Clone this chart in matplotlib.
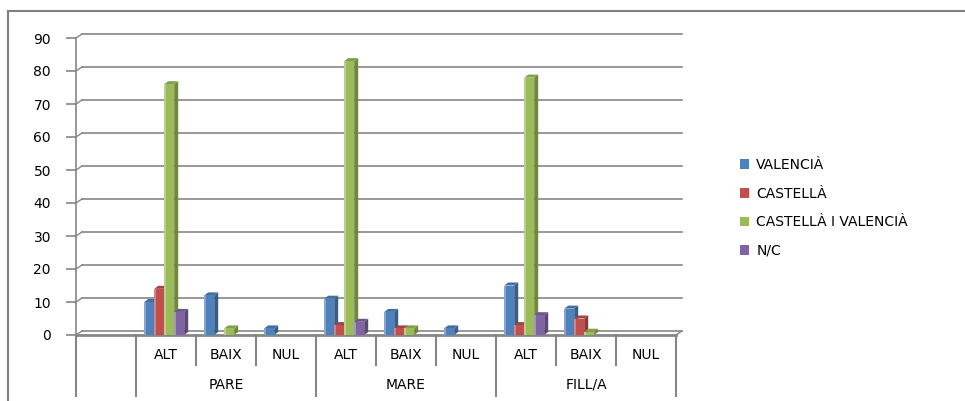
import matplotlib
matplotlib.use("Agg")
import matplotlib.pyplot as plt
import matplotlib.transforms as mtransforms
from matplotlib.patches import Polygon, Rectangle
from matplotlib.lines import Line2D
import numpy as np
import colorsys

# ---------------- data ----------------
groups = ["PARE", "MARE", "FILL/A"]
subcats = ["ALT", "BAIX", "NUL"]
series_names = ["VALENCIÀ", "CASTELLÀ", "CASTELLÀ I VALENCIÀ", "N/C"]
valencia = [10, 12, 2, 11, 7, 2, 15, 8, 0]
castella = [14, 0, 0, 3, 2, 0, 3, 5, 0]
cast_val = [76, 2, 0, 83, 2, 0, 78, 1, 0]
nc = [7, 0, 0, 4, 0, 0, 6, 0, 0]
colors = ["#4F81BD", "#C0504D", "#9BBB59", "#8064A2"]
yticks = [0, 10, 20, 30, 40, 50, 60, 70, 80, 90]

series = [valencia, castella, cast_val, nc]

W, H = 965, 401
fig = plt.figure(figsize=(W / 100, H / 100), dpi=100)
plt.rcParams['font.family'] = ['DejaVu Sans']

ax_l, ax_r, ax_t, ax_b = 76, 676, 38, 335
ax = fig.add_axes([ax_l / W, 1 - ax_b / H, (ax_r - ax_l) / W, (ax_b - ax_t) / H])
ncat = 1 + len(groups) * len(subcats)
ax.set_xlim(-0.5, ncat - 0.5)
ax.set_ylim(0, 90)
ax.patch.set_alpha(0)

grid_c = "#868686"
# back-wall gridlines (offset for pseudo 3D)
off_grid = mtransforms.ScaledTranslation(6 / 100, 4 / 100, fig.dpi_scale_trans)
for v in yticks:
    ax.plot([-0.5, ncat - 0.5], [v, v], color=grid_c, lw=1.2,
            transform=ax.transData + off_grid, clip_on=False, zorder=1)
    # slanted connector from tick to wall
    ax.plot([-0.5, -0.5], [v, v], color=grid_c, lw=1.0, clip_on=False)
# connectors
for v in yticks:
    p0 = ax.transData.transform((-0.5, v))
    p1 = p0 + np.array([6, 4])
    fig.add_artist(Line2D([p0[0] / W, p1[0] / W], [p0[1] / H, p1[1] / H],
                          color=grid_c, lw=1.0))
# right-bottom connector
p0 = ax.transData.transform((ncat - 0.5, 0))
p1 = p0 + np.array([6, 4])
fig.add_artist(Line2D([p0[0] / W, p1[0] / W], [p0[1] / H, p1[1] / H], color=grid_c, lw=1.0))

# bars with pseudo 3D
bw = 1 / 6
dxp, dyp = 4, 3  # pixel depth
inv = ax.transData.inverted()
o = inv.transform((0, 0))
d = inv.transform((dxp, dyp)) - o
ddx, ddy = d


def darker(c, f=0.72):
    r, g, b = matplotlib.colors.to_rgb(c)
    return (r * f, g * f, b * f)


def lighter(c, f=0.25):
    r, g, b = matplotlib.colors.to_rgb(c)
    return (r + (1 - r) * f, g + (1 - g) * f, b + (1 - b) * f)


xs = np.arange(1, ncat)
for si, vals in enumerate(series):
    xpos = xs + (si - 1.5) * bw - 0.03
    for x, v in zip(xpos, vals):
        if v <= 0:
            continue
        x0, x1 = x - bw / 2, x + bw / 2
        c = colors[si]
        # side face
        ax.add_patch(Polygon([(x1, 0), (x1, v), (x1 + ddx, v + ddy), (x1 + ddx, ddy)],
                             closed=True, facecolor=darker(c), edgecolor="none", zorder=3 + si * 0.01))
        # top face
        ax.add_patch(Polygon([(x0, v), (x1, v), (x1 + ddx, v + ddy), (x0 + ddx, v + ddy)],
                             closed=True, facecolor=darker(c, 0.85), edgecolor="none", zorder=3 + si * 0.01))
    ax.bar(xpos, vals, width=bw, color=colors[si], zorder=4, linewidth=0)
    # highlight stripe on the left
    for x, v in zip(xpos, vals):
        if v > 0:
            ax.add_patch(Rectangle((x - bw / 2, 0), bw * 0.18, v, facecolor=lighter(colors[si], 0.3),
                                   edgecolor="none", zorder=4.5))

# spines and ticks
for s in ["top", "right"]:
    ax.spines[s].set_visible(False)
ax.spines["left"].set_color(grid_c)
ax.spines["left"].set_linewidth(1.2)
ax.spines["bottom"].set_color(grid_c)
ax.spines["bottom"].set_linewidth(2.0)
ax.set_yticks(yticks)
ax.set_yticklabels([str(v) for v in yticks], fontsize=10)
ax.tick_params(axis="y", length=7, width=1.2, color=grid_c, pad=11, labelcolor="#000000")
ax.set_xticks([])

# multi-level category labels
lab_trans = mtransforms.blended_transform_factory(ax.transData, fig.transFigure)
y_sub = 1 - 355 / H
y_grp = 1 - 385 / H
y_top = 1 - 335 / H
y_mid = 1 - 365 / H
y_bot = 1 - 396 / H
for gi, g in enumerate(groups):
    for si, s in enumerate(subcats):
        cx = 1 + gi * len(subcats) + si
        ax.text(cx, y_sub, s, transform=lab_trans, ha="center", va="center", fontsize=10)
    gc = 1 + gi * len(subcats) + (len(subcats) - 1) / 2
    ax.text(gc, y_grp, g, transform=lab_trans, ha="center", va="center", fontsize=10)

for b in range(ncat + 1):
    xb = b - 0.5
    full = (b == 0 or b == 1 or (b - 1) % len(subcats) == 0)
    ax.plot([xb, xb], [y_top, y_bot if full else y_mid], transform=lab_trans,
            color=grid_c, lw=1.5, clip_on=False)

# legend
handles = [Rectangle((0, 0), 1, 1, facecolor=c, edgecolor="none") for c in colors]
fig.legend(handles, series_names, loc="center left", bbox_to_anchor=(727 / W, 1 - 208 / H),
           frameon=False, fontsize=10, handlelength=0.7, handleheight=0.7,
           handletextpad=0.5, labelspacing=1.05)

# chart border
fig.add_artist(Rectangle((8 / W, -0.05), 1.2, 1 - 11 / H + 0.05, transform=fig.transFigure,
                         fill=False, edgecolor="#7F7F7F", lw=1.5))

fig.savefig("out.png", dpi=100)
